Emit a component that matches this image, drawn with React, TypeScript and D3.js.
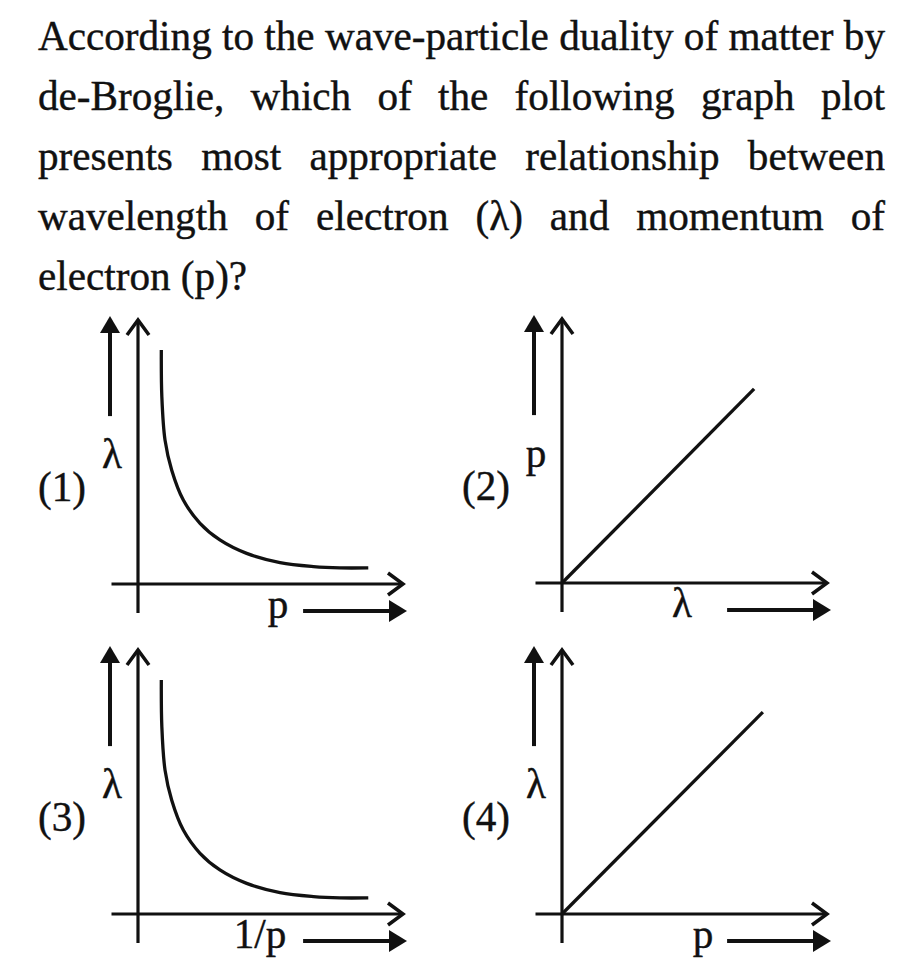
import React, { useEffect, useRef } from "react";
import * as d3 from "d3";

// question text, one entry per printed line
const questionLines = [
  "According to the wave-particle duality of matter by",
  "de-Broglie, which of the following graph plot",
  "presents most appropriate relationship between",
  "wavelength of electron (λ) and momentum of",
  "electron (p)?",
];

// hyperbola (1) and (3), axis units 0..10
const curveX = [0.88, 0.9, 1.02, 1.27, 1.71, 2.34, 3.09, 4.1, 5.36, 6.62, 7.62, 8.69];
const curveY = [8.86, 7.09, 5.45, 4.32, 3.18, 2.3, 1.67, 1.16, 0.81, 0.66, 0.61, 0.61];

// straight lines through the origin in graphs (2) and (4)
const line2X = [0, 7.25];
const line2Y = [0, 7.35];
const line4X = [0, 7.58];
const line4Y = [0, 7.65];

const panelIds = ["(1)", "(2)", "(3)", "(4)"];
const yLabels = ["λ", "p", "λ", "λ"];
const xLabels = ["p", "λ", "1/p", "p"];

const FONT = "'Liberation Serif', 'Times New Roman', serif";
const FS = 42;
const INK = "#111";

const App: React.FC = () => {
  const svgRef = useRef<SVGSVGElement>(null);

  useEffect(() => {
    if (!svgRef.current) return;
    const svg = d3.select(svgRef.current);
    svg.selectAll("*").remove();

    // ---- question text, justified ----
    const left = 38;
    const right = 885;
    const textG = svg.append("g");

    const measure = (s: string) => {
      const t = textG
        .append("text")
        .attr("font-family", FONT)
        .attr("font-size", FS)
        .text(s);
      const w = (t.node() as SVGTextElement).getComputedTextLength();
      t.remove();
      return w;
    };

    const spaceW = measure("a a") - measure("aa");
    const firstWords = questionLines[0].split(" ");
    const natural =
      d3.sum(firstWords, (w) => measure(w)) + spaceW * (firstWords.length - 1);
    const sx = (right - left) / natural;

    questionLines.forEach((line, i) => {
      const words = line.split(" ");
      const widths = words.map((w) => measure(w) * sx);
      const last = i === questionLines.length - 1;
      const gap = last
        ? spaceW * sx
        : (right - left - d3.sum(widths)) / (words.length - 1);
      let x = left;
      const y = 50 + i * 60;
      words.forEach((w, j) => {
        textG
          .append("text")
          .attr("font-family", FONT)
          .attr("font-size", FS)
          .attr("fill", INK)
          .attr("stroke", INK)
          .attr("stroke-width", 0.4)
          .attr("transform", `translate(${x},${y}) scale(${sx},1)`)
          .text(w);
        x += widths[j] + gap;
      });
    });

    // ---- graphs ----
    const origins: [number, number][] = [
      [138, 584],
      [562, 583],
      [138, 914],
      [562, 914],
    ];
    const xLabelOffset = [140, 120, 122, 141];

    const curveData = curveX.map((x, i) => ({ x, y: curveY[i] }));
    const series = [
      { data: curveData, curve: d3.curveCatmullRom.alpha(0.5) },
      { data: line2X.map((x, i) => ({ x, y: line2Y[i] })), curve: d3.curveLinear },
      { data: curveData, curve: d3.curveCatmullRom.alpha(0.5) },
      { data: line4X.map((x, i) => ({ x, y: line4Y[i] })), curve: d3.curveLinear },
    ];

    origins.forEach(([ox, oy], p) => {
      const g = svg.append("g");
      const x = d3.scaleLinear().domain([0, 10]).range([ox, ox + 265]);
      const y = d3.scaleLinear().domain([0, 10]).range([oy, oy - 264]);

      // axes
      g.append("line")
        .attr("x1", x(-1))
        .attr("x2", x(10))
        .attr("y1", y(0))
        .attr("y2", y(0))
        .attr("stroke", INK)
        .attr("stroke-width", 3.2);
      g.append("path")
        .attr(
          "d",
          `M${x(10) - 15},${y(0) - 11}L${x(10)},${y(0)}L${x(10) - 15},${y(0) + 11}`
        )
        .attr("fill", "none")
        .attr("stroke", INK)
        .attr("stroke-width", 3.5);
      g.append("line")
        .attr("x1", x(0))
        .attr("x2", x(0))
        .attr("y1", y(-1.1))
        .attr("y2", y(10))
        .attr("stroke", INK)
        .attr("stroke-width", 3.2);
      g.append("path")
        .attr(
          "d",
          `M${x(0) - 11},${y(10) + 15}L${x(0)},${y(10)}L${x(0) + 11},${y(10) + 15}`
        )
        .attr("fill", "none")
        .attr("stroke", INK)
        .attr("stroke-width", 3.5);

      // side arrow (up)
      const ax = ox - 28;
      const tipY = y(10.15);
      g.append("line")
        .attr("x1", ax)
        .attr("x2", ax)
        .attr("y1", y(6.36))
        .attr("y2", tipY + 14)
        .attr("stroke", INK)
        .attr("stroke-width", 4);
      g.append("path")
        .attr("d", `M${ax},${tipY}L${ax - 10},${tipY + 17}L${ax + 10},${tipY + 17}Z`)
        .attr("fill", INK);

      // bottom arrow (right)
      const by = oy + 27;
      const tipX = x(10.15);
      g.append("line")
        .attr("x1", x(6.23))
        .attr("x2", tipX - 14)
        .attr("y1", by)
        .attr("y2", by)
        .attr("stroke", INK)
        .attr("stroke-width", 4);
      g.append("path")
        .attr("d", `M${tipX},${by}L${tipX - 18},${by - 11}L${tipX - 18},${by + 11}Z`)
        .attr("fill", INK);

      // plotted relation
      const gen = d3
        .line<{ x: number; y: number }>()
        .x((d) => x(d.x))
        .y((d) => y(d.y))
        .curve(series[p].curve);
      g.append("path")
        .datum(series[p].data)
        .attr("d", gen)
        .attr("fill", "none")
        .attr("stroke", INK)
        .attr("stroke-width", 3.3);

      // labels
      const label = (s: string, tx: number, ty: number, anchor: string) =>
        g
          .append("text")
          .attr("font-family", FONT)
          .attr("font-size", FS)
          .attr("fill", INK)
          .attr("stroke", INK)
          .attr("stroke-width", 0.4)
          .attr("text-anchor", anchor)
          .attr("transform", `translate(${tx},${ty}) scale(${sx},1)`)
          .text(s);

      label(panelIds[p], ox - 100, oy - 83, "start");
      label(yLabels[p], ox - 26, oy - 116, "middle");
      label(xLabels[p], ox + xLabelOffset[p], oy + 34, "middle");
    });
  }, []);

  return (
    <svg
      ref={svgRef}
      width={902}
      height={970}
      style={{ position: "absolute", left: 0, top: 0, background: "#fff" }}
    />
  );
};

export default App;
